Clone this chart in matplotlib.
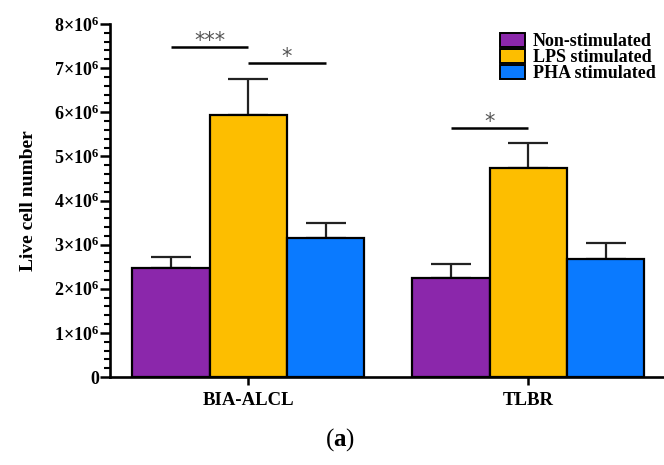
import numpy as np
import matplotlib
matplotlib.use("Agg")
import matplotlib.pyplot as plt
from matplotlib.ticker import MultipleLocator, FuncFormatter
from matplotlib.patches import Patch

plt.rcParams["font.family"] = ["Liberation Serif", "DejaVu Serif"]
plt.rcParams["font.weight"] = "bold"
plt.rcParams["mathtext.fontset"] = "custom"
plt.rcParams["mathtext.rm"] = "Liberation Serif:bold"
plt.rcParams["mathtext.bf"] = "Liberation Serif:bold"
plt.rcParams["mathtext.it"] = "Liberation Serif:bold"

# data (live cell number, x 10^6)
groups = ["BIA-ALCL", "TLBR"]
conditions = ["Non-stimulated", "LPS stimulated", "PHA stimulated"]
means = {
    "Non-stimulated": [2.47, 2.24],
    "LPS stimulated": [5.93, 4.74],
    "PHA stimulated": [3.15, 2.68],
}
errors = {
    "Non-stimulated": [0.26, 0.31],
    "LPS stimulated": [0.83, 0.56],
    "PHA stimulated": [0.35, 0.36],
}
colors = ["#8B27AB", "#FDBE00", "#0A7AFF"]

# significance brackets: (group, cond_a, cond_b, height x10^6, label)
sig = [
    (0, 0, 1, 7.48, "***"),
    (0, 1, 2, 7.12, "*"),
    (1, 0, 1, 5.64, "*"),
]

group_step = 3.62
centers = np.arange(len(groups)) * group_step
width = 1.0

fig = plt.figure(figsize=(6.64, 4.65), dpi=100)
ax = fig.add_axes([110 / 664, 1 - 377 / 465, 553 / 664, 353 / 465])

for i, cond in enumerate(conditions):
    xs = centers + (i - 1) * width
    ax.bar(xs, np.array(means[cond]) * 1e6, width, color=colors[i],
           edgecolor="black", linewidth=1.6, label=cond, zorder=2)
    ax.errorbar(xs, np.array(means[cond]) * 1e6,
                yerr=[np.zeros(len(groups)), np.array(errors[cond]) * 1e6],
                fmt="none", ecolor="#222222", elinewidth=1.6, capsize=14.5,
                capthick=1.6, zorder=1)

for g, a, b, h, lab in sig:
    x1 = centers[g] + (a - 1) * width
    x2 = centers[g] + (b - 1) * width
    ax.plot([x1, x2], [h * 1e6, h * 1e6], color="black", lw=1.8,
            solid_capstyle="butt")
    ax.text((x1 + x2) / 2, h * 1e6 + 0.13e6, lab, ha="center", va="center",
            fontsize=15, color="#555555", family="DejaVu Sans", fontweight="normal")

ax.set_ylim(0, 8e6)
ax.set_xlim(centers[0] - 1.787, centers[0] + 5.36)
ax.yaxis.set_major_locator(MultipleLocator(1e6))
ax.yaxis.set_minor_locator(MultipleLocator(0.2e6))


def fmt(v, pos):
    n = int(round(v / 1e6))
    if n == 0:
        return "0"
    return r"$%d{\times}10^{6}$" % n


ax.yaxis.set_major_formatter(FuncFormatter(fmt))
ax.set_xticks(centers)
ax.set_xticklabels(groups, fontsize=13.5, fontweight="bold")
ax.tick_params(axis="y", which="major", length=7, width=1.8, labelsize=13, pad=1)
ax.tick_params(axis="y", which="minor", length=4, width=1.5)
ax.tick_params(axis="x", which="major", length=6, width=1.8, pad=5)

for s in ["top", "right"]:
    ax.spines[s].set_visible(False)
for s in ["left", "bottom"]:
    ax.spines[s].set_linewidth(1.9)

ax.set_ylabel("Live cell number", fontsize=14, fontweight="bold", labelpad=12)

handles = [Patch(facecolor=c, edgecolor="black", linewidth=1.4) for c in colors]
ax.legend(handles, conditions, loc="upper right", bbox_to_anchor=(1.0, 0.995),
          frameon=False, fontsize=13, handlelength=1.4, handleheight=0.8,
          handletextpad=0.45, labelspacing=-0.06, borderaxespad=0)

fig.text(340 / 664, 1 - 440 / 465, r"($\mathbf{a}$)", ha="center", va="center",
         fontsize=18, fontweight="normal")

fig.savefig("out.png", dpi=100)
